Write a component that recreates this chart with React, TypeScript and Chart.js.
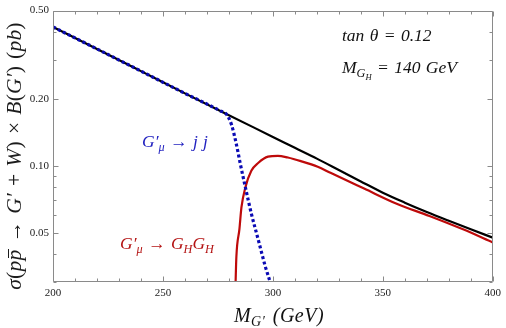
import React, { useEffect, useRef } from 'react';
import { Chart, registerables } from 'chart.js';

Chart.register(...registerables);

// ---- data ----
const totalMass = [200, 220, 240, 260, 280, 300, 310, 320, 330, 340, 350, 360, 370, 380, 390, 400];
const totalXsec = [0.422, 0.336, 0.267, 0.212, 0.169, 0.135, 0.1206, 0.1078, 0.0958, 0.0851, 0.0757, 0.0683, 0.062, 0.0566, 0.0518, 0.0475];

const jjMass = [200, 220, 240, 260, 276, 279, 281.2, 283.4, 285.2, 287.5, 290.2, 293.3, 296.5, 298.7, 300];
const jjXsec = [0.422, 0.336, 0.267, 0.212, 0.177, 0.17, 0.153, 0.125, 0.102, 0.08, 0.061, 0.0467, 0.0354, 0.0301, 0.027];

const ghMass = [280.6, 282.9, 283.4, 284.8, 285.7, 287.5, 290.2, 293.3, 297.8, 302.3, 306.8, 312.7, 320.4, 326.2, 341.5, 356.3, 371.2, 386.5, 400];
const ghXsec = [0.01, 0.027, 0.039, 0.052, 0.065, 0.08, 0.095, 0.103, 0.11, 0.111, 0.109, 0.105, 0.099, 0.093, 0.079, 0.0675, 0.0595, 0.0518, 0.0452];

const xMajorTicks = [200, 250, 300, 350, 400];
const xMinorTicks = [210, 220, 230, 240, 260, 270, 280, 290, 310, 320, 330, 340, 360, 370, 380, 390];
const yMajorTicks = [0.05, 0.1, 0.2, 0.5];
const yMinorTicks = [0.03, 0.04, 0.06, 0.07, 0.08, 0.09, 0.3, 0.4];

const X_MIN = 200;
const X_MAX = 400;
const Y_MIN = 0.03;
const Y_MAX = 0.5;

const SERIF = '"Liberation Serif", "Times New Roman", serif';
const FRAME = '#8a8a8a';
const BLACK = '#000000';
const RED = '#be0a0a';
const BLUE = '#0a0ab4';

const toXY = (xs: number[], ys: number[]) => xs.map((x, i) => ({ x, y: ys[i] }));

const framePlugin = {
  id: 'frame',
  afterDatasetsDraw(chart: any) {
    const { ctx, chartArea, scales } = chart;
    const { left, right, top, bottom } = chartArea;
    const xs = scales.x;
    const ys = scales.y;
    ctx.save();
    ctx.strokeStyle = FRAME;
    ctx.lineWidth = 1;
    ctx.beginPath();
    ctx.rect(Math.round(left) + 0.5, Math.round(top) + 0.5, Math.round(right - left) - 1, Math.round(bottom - top) - 1);
    ctx.stroke();
    const L = Math.round(left) + 0.5;
    const R = Math.round(right) - 0.5;
    const T = Math.round(top) + 0.5;
    const B = Math.round(bottom) - 0.5;
    const xt = (v: number, len: number) => {
      const p = Math.round(xs.getPixelForValue(v)) + 0.5;
      ctx.moveTo(p, B); ctx.lineTo(p, B - len);
      ctx.moveTo(p, T); ctx.lineTo(p, T + len);
    };
    const yt = (v: number, len: number) => {
      const p = Math.round(ys.getPixelForValue(v)) + 0.5;
      ctx.moveTo(L, p); ctx.lineTo(L + len, p);
      ctx.moveTo(R, p); ctx.lineTo(R - len, p);
    };
    ctx.beginPath();
    xMajorTicks.forEach((v) => xt(v, 5));
    xMinorTicks.forEach((v) => xt(v, 3));
    yMajorTicks.forEach((v) => yt(v, 5));
    yMinorTicks.forEach((v) => yt(v, 3));
    ctx.stroke();
    ctx.restore();
  },
};

const Sub = ({ children }: { children: any }) => (
  <span style={{ fontSize: '0.7em', position: 'relative', top: '0.3em' }}>{children}</span>
);

const Text = ({ x, baseline, size, color, center, ls = 0, ws = 1, children }: any) => (
  <div
    style={{
      position: 'absolute',
      left: x,
      top: baseline - 0.8375 * size,
      fontSize: size,
      lineHeight: `${size}px`,
      fontFamily: SERIF,
      fontStyle: 'italic',
      whiteSpace: 'nowrap',
      letterSpacing: `${ls}px`,
      wordSpacing: `${ws}px`,
      color,
      transform: center ? 'translateX(-50%)' : undefined,
    }}
  >
    {children}
  </div>
);

export default function App() {
  const ref = useRef<HTMLCanvasElement>(null);

  useEffect(() => {
    const chart = new Chart(ref.current as HTMLCanvasElement, {
      type: 'line',
      data: {
        datasets: [
          {
            label: 'jj',
            data: toXY(jjMass, jjXsec),
            borderColor: BLUE,
            borderWidth: 3.2,
            borderDash: [3, 2.5],
            borderCapStyle: 'butt',
            pointRadius: 0,
            cubicInterpolationMode: 'monotone',
            clip: 0,
            order: 0,
          },
          {
            label: 'total',
            data: toXY(totalMass, totalXsec),
            borderColor: BLACK,
            borderWidth: 2.2,
            pointRadius: 0,
            cubicInterpolationMode: 'monotone',
            clip: 0,
            order: 1,
          },
          {
            label: 'GHGH',
            data: toXY(ghMass, ghXsec),
            borderColor: RED,
            borderWidth: 2.2,
            pointRadius: 0,
            cubicInterpolationMode: 'monotone',
            clip: 0,
            order: 2,
          },
        ],
      } as any,
      options: {
        animation: false,
        responsive: false,
        devicePixelRatio: 1,
        layout: { padding: { left: 0, top: 7, right: 9, bottom: 0 } },
        plugins: { legend: { display: false }, tooltip: { enabled: false } },
        scales: {
          x: {
            type: 'linear',
            min: X_MIN,
            max: X_MAX,
            grid: { display: false, drawTicks: false },
            border: { display: false },
            afterBuildTicks: (s: any) => {
              s.ticks = xMajorTicks.map((v) => ({ value: v }));
            },
            afterFit: (s: any) => {
              s.height = 46;
            },
            ticks: {
              padding: 5,
              maxRotation: 0,
              color: '#222',
              font: { family: SERIF, size: 11 },
              callback: (v: any) => String(v),
            },
          },
          y: {
            type: 'logarithmic',
            min: Y_MIN,
            max: Y_MAX,
            grid: { display: false, drawTicks: false },
            border: { display: false },
            afterBuildTicks: (s: any) => {
              s.ticks = yMajorTicks.map((v) => ({ value: v }));
            },
            afterFit: (s: any) => {
              s.width = 53;
            },
            ticks: {
              padding: 4,
              color: '#222',
              font: { family: SERIF, size: 11 },
              callback: (v: any) => Number(v).toFixed(2),
            },
          },
        },
      } as any,
      plugins: [framePlugin],
    });
    return () => chart.destroy();
  }, []);

  return (
    <div style={{ position: 'absolute', left: 0, top: 0, width: 506, height: 328, overflow: 'hidden', background: '#fff' }}>
      <canvas ref={ref} width={506} height={328} style={{ position: 'absolute', left: 0, top: 0, width: 506, height: 328 }} />

      {/* y-axis title */}
      <div
        style={{
          position: 'absolute',
          left: 14 - 170,
          top: 156 - 10,
          width: 340,
          height: 20,
          lineHeight: '20px',
          fontSize: 21.5,
          fontFamily: SERIF,
          textAlign: 'center',
          whiteSpace: 'nowrap',
          letterSpacing: '0.2px',
          wordSpacing: '1.5px',
          color: '#1c1c1c',
          transform: 'rotate(-90deg)',
          transformOrigin: '50% 50%',
        }}
      >
        <i>σ</i>(<i>p</i>
        <i style={{ position: 'relative', display: 'inline-block' }}>
          p
          <span
            style={{
              position: 'absolute',
              left: '0.12em',
              right: '-0.04em',
              top: '0.2em',
              borderTop: '1px solid currentColor',
            }}
          />
        </i>{' '}
        → <i>G′</i> + <i>W</i>) × <i>B</i>(<i>G′</i>) (<i>pb</i>)
      </div>

      {/* x-axis title */}
      <Text x={279} baseline={322} size={20} color="#111" ls={0.5} ws={2} center>
        M<Sub>G′</Sub> (GeV)
      </Text>

      <Text x={342} baseline={42} size={17.5} color="#111">
        tan θ = 0.12
      </Text>
      <Text x={342} baseline={74} size={17.5} color="#111">
        M<Sub>G<Sub>H</Sub></Sub> = 140 GeV
      </Text>

      <Text x={142} baseline={148} size={17.5} color="#2222c0">
        G′<Sub>μ</Sub> → j j
      </Text>
      <Text x={120} baseline={250} size={17.5} color="#b41414">
        G′<Sub>μ</Sub> → G<Sub>H</Sub>G<Sub>H</Sub>
      </Text>
    </div>
  );
}
